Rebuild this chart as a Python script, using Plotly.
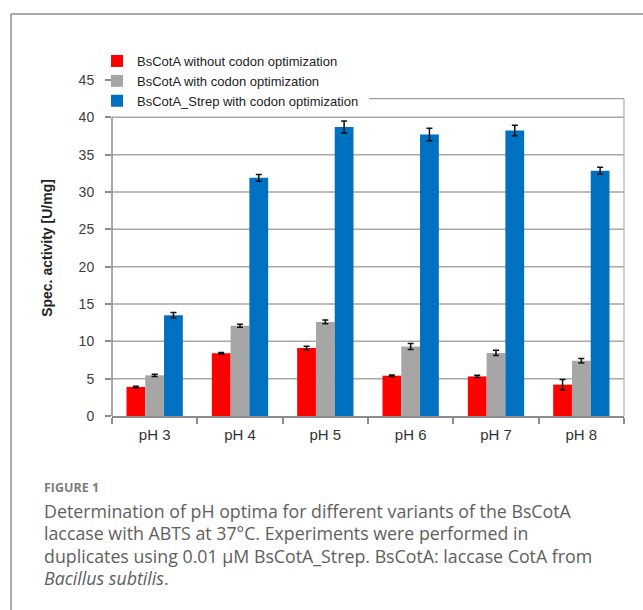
import plotly.graph_objects as go

categories = ["pH 3", "pH 4", "pH 5", "pH 6", "pH 7", "pH 8"]
series_names = ["BsCotA without codon optimization",
                "BsCotA with codon optimization",
                "BsCotA_Strep with codon optimization"]
red_vals = [3.9, 8.4, 9.1, 5.4, 5.3, 4.2]
red_err = [0.1, 0.1, 0.25, 0.1, 0.15, 0.7]
gray_vals = [5.45, 12.1, 12.6, 9.3, 8.45, 7.4]
gray_err = [0.15, 0.2, 0.25, 0.4, 0.35, 0.3]
blue_vals = [13.5, 31.9, 38.7, 37.7, 38.25, 32.85]
blue_err = [0.35, 0.45, 0.8, 0.85, 0.7, 0.45]
y_ticks = [0, 5, 10, 15, 20, 25, 30, 35, 40, 45]
grid_vals = [5, 10, 15, 20, 25, 30, 35, 40]

colors = ["#FF0000", "#A6A6A6", "#0070C0"]

fig = go.Figure()
for name, vals, err, col in zip(series_names, [red_vals, gray_vals, blue_vals],
                                [red_err, gray_err, blue_err], colors):
    fig.add_trace(go.Bar(
        x=categories, y=vals, name=name,
        marker=dict(color=col, line=dict(width=0)),
        error_y=dict(type="data", array=err, visible=True, color="#111111",
                     thickness=1.5, width=3),
    ))

W, H = 643, 610
L, R, T, B = 112, 19, 80, 194
pw, ph = W - L - R, H - T - B


def px_x(p):
    return (p - L) / pw


def px_y(p):
    return (H - B - p) / ph


shapes = []
for g in grid_vals:
    shapes.append(dict(type="line", xref="paper", yref="y", x0=0, x1=1, y0=g, y1=g,
                       line=dict(color="#A8A8A8", width=1.5), layer="below"))
# y axis line (0..40)
shapes.append(dict(type="line", xref="paper", yref="y", x0=0, x1=0, y0=0, y1=40,
                   line=dict(color="#8C8C8C", width=1.5)))
# chart-area border pieces (top-right)
shapes.append(dict(type="line", xref="paper", yref="y", x0=0.502, x1=1, y0=42.5, y1=42.5,
                   line=dict(color="#A0A0A0", width=1.2)))
shapes.append(dict(type="line", xref="paper", yref="y", x0=1, x1=1, y0=42.5, y1=0,
                   line=dict(color="#B0B0B0", width=1.2)))
# outer frame (top and left)
shapes.append(dict(type="line", xref="paper", yref="paper", x0=px_x(11), x1=px_x(643),
                   y0=px_y(14), y1=px_y(14), line=dict(color="#8C8C8C", width=1.5)))
shapes.append(dict(type="line", xref="paper", yref="paper", x0=px_x(11), x1=px_x(11),
                   y0=px_y(14), y1=px_y(612), line=dict(color="#8C8C8C", width=1.5)))

cap_font = "Open Sans, Noto Sans, sans-serif"
annotations = [
    dict(text="<b>FIGURE 1</b>", x=px_x(42), y=px_y(487), xref="paper", yref="paper",
         xanchor="left", yanchor="middle", showarrow=False,
         font=dict(family=cap_font, size=12.5, color="#7d7d7d")),
]
cap_lines = [
    "Determination of pH optima for different variants of the BsCotA",
    "laccase with ABTS at 37°C. Experiments were performed in",
    "duplicates using 0.01 μM BsCotA_Strep. BsCotA: laccase CotA from",
    "<i>Bacillus subtilis</i>.",
]
cap_y = [510.5, 533, 555.5, 578]
for t, yy in zip(cap_lines, cap_y):
    annotations.append(dict(text=t, x=px_x(42), y=px_y(yy), xref="paper", yref="paper",
                            xanchor="left", yanchor="middle", showarrow=False,
                            font=dict(family=cap_font, size=17.8, color="#606060")))

fig.update_layout(
    width=W, height=H,
    margin=dict(l=L, r=R, t=T, b=B, pad=0),
    paper_bgcolor="white", plot_bgcolor="white",
    barmode="group", bargap=0.34, bargroupgap=0,
    font=dict(family="Liberation Sans, Arial, sans-serif", color="#333333"),
    xaxis=dict(type="category", showgrid=False, showline=True, linecolor="#8C8C8C",
               linewidth=1.5, ticks="outside", tickson="boundaries", ticklen=6,
               tickcolor="#8C8C8C", tickwidth=1.5, ticklabelstandoff=4,
               tickfont=dict(size=15, color="#333333",
                             family="Liberation Sans, Arial, sans-serif")),
    yaxis=dict(range=[0, 45], tickvals=y_ticks, showgrid=False, showline=False,
               zeroline=False, ticks="outside", ticklen=6, tickcolor="#8C8C8C",
               tickwidth=1.5, ticklabelstandoff=8,
               tickfont=dict(size=14, color="#404040"),
               title=dict(text="<b>Spec. activity [U/mg]</b>", standoff=22,
                          font=dict(size=14, color="#222222"))),
    legend=dict(x=px_x(97), y=px_y(46), xanchor="left", yanchor="top",
                bgcolor="rgba(0,0,0,0)", borderwidth=0, itemwidth=30,
                font=dict(size=13, color="#222222"), traceorder="normal"),
    shapes=shapes,
    annotations=annotations,
)

fig.write_html("out.html")
